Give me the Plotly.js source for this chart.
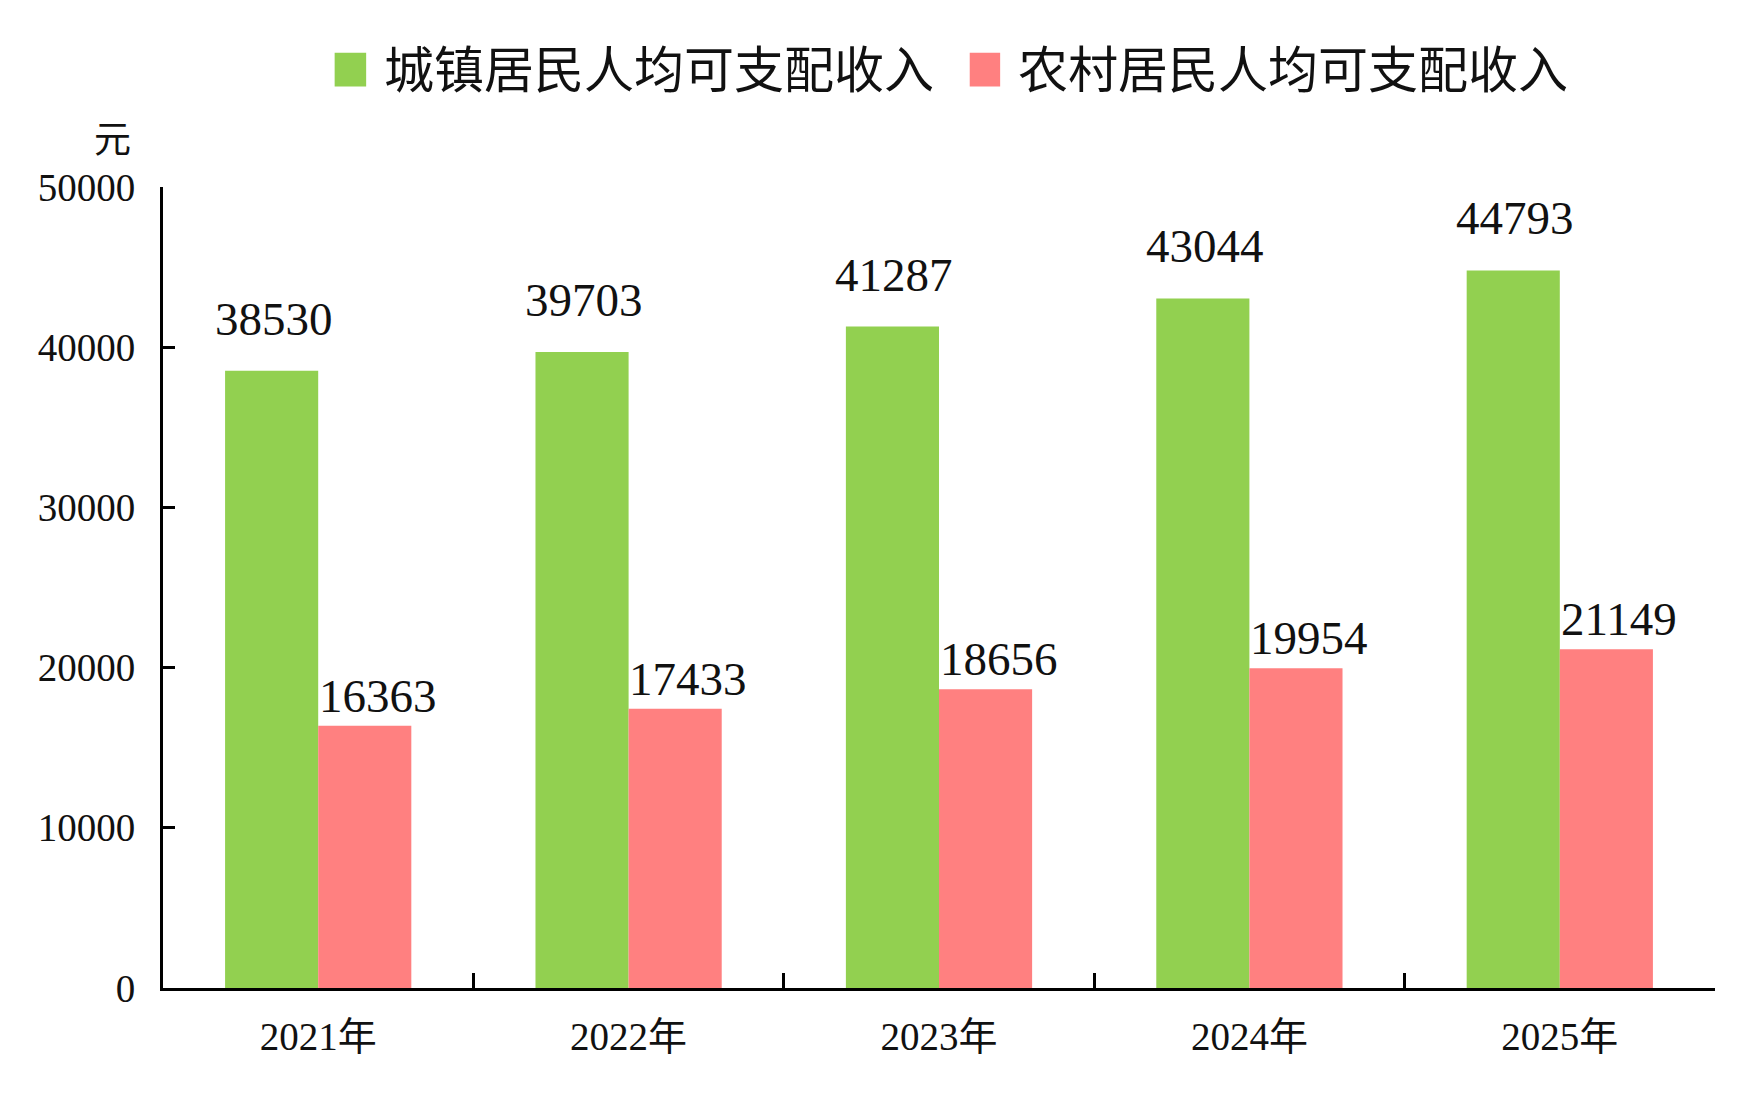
<!DOCTYPE html>
<html>
<head>
<meta charset="utf-8">
<script src="https://cdn.plot.ly/plotly-3.0.1.min.js"></script>
<style>
  html, body { margin: 0; padding: 0; background: #fff; }
  #chart { width: 1752px; height: 1119px; }
</style>
</head>
<body>
<div id="chart"></div>
<script>
// 城镇 / 农村居民人均可支配收入（元）
const years = ["2021年", "2022年", "2023年", "2024年", "2025年"];
const seriesNames = ["城镇居民人均可支配收入", "农村居民人均可支配收入"];
const urbanIncome = [38530, 39703, 41287, 43044, 44793];
const ruralIncome = [16363, 17433, 18656, 19954, 21149];

const green = "rgb(146, 208, 80)";
const pink = "rgb(255, 128, 128)";
const serif = "Liberation Serif, Noto Sans CJK SC, serif";
const cjk = "Noto Sans CJK SC, sans-serif";

const urbanTrace = {
  type: "bar",
  name: seriesNames[0],
  x: years,
  y: urbanIncome,
  marker: { color: green },
  showlegend: false,
  hoverinfo: "none",
};

const ruralTrace = {
  type: "bar",
  name: seriesNames[1],
  x: years,
  y: ruralIncome,
  marker: { color: pink },
  showlegend: false,
  hoverinfo: "none",
};

// value labels sit a bit off the bars, like in the original
let annotations = [];
for (var i = 0; i < years.length; i++) {
  annotations.push({
    x: i - 0.15, y: urbanIncome[i], xref: "x", yref: "y",
    text: String(urbanIncome[i]), showarrow: false,
    xanchor: "center", yanchor: "bottom", xshift: 2, yshift: 24,
    font: { family: serif, size: 47, color: "#111" },
  });
  annotations.push({
    x: i + 0.15, y: ruralIncome[i], xref: "x", yref: "y",
    text: String(ruralIncome[i]), showarrow: false,
    xanchor: "center", yanchor: "bottom", xshift: 13, yshift: 2,
    font: { family: serif, size: 47, color: "#111" },
  });
}

// unit label
annotations.push({
  x: -0.0327, y: 1.058, xref: "paper", yref: "paper",
  text: "元", showarrow: false, xanchor: "center", yanchor: "middle",
  font: { family: serif, size: 37, color: "#111" },
});

// legend drawn by hand so the swatches can be large
annotations.push({
  x: 0.1409, y: 1.151, xref: "paper", yref: "paper",
  text: seriesNames[0], showarrow: false, xanchor: "left", yanchor: "middle",
  font: { family: cjk, size: 50, color: "#111" },
});
annotations.push({
  x: 0.5494, y: 1.151, xref: "paper", yref: "paper",
  text: seriesNames[1], showarrow: false, xanchor: "left", yanchor: "middle",
  font: { family: cjk, size: 50, color: "#111" },
});

const shapes = [
  { type: "rect", xref: "paper", yref: "paper", x0: 0.1106, x1: 0.1309, y0: 1.1255, y1: 1.1675,
    fillcolor: green, line: { width: 0 } },
  { type: "rect", xref: "paper", yref: "paper", x0: 0.5198, x1: 0.5394, y0: 1.1255, y1: 1.1675,
    fillcolor: pink, line: { width: 0 } },
];

const layout = {
  width: 1752,
  height: 1119,
  margin: { l: 163, r: 37, t: 187, b: 131 },
  paper_bgcolor: "#fff",
  plot_bgcolor: "#fff",
  barmode: "group",
  bargap: 0.4,
  bargroupgap: 0,
  showlegend: false,
  font: { family: serif, color: "#111" },
  xaxis: {
    type: "category",
    showline: true, linecolor: "#000", linewidth: 3,
    ticks: "inside", tickson: "boundaries", ticklen: 15, tickwidth: 3, tickcolor: "#000",
    ticklabelstandoff: 12,
    tickfont: { family: serif, size: 39, color: "#111" },
    showgrid: false, zeroline: false,
  },
  yaxis: {
    range: [0, 50000],
    tickvals: [0, 10000, 20000, 30000, 40000, 50000],
    ticktext: ["0", "10000", "20000", "30000", "40000", "50000"],
    showline: true, linecolor: "#000", linewidth: 3,
    ticks: "inside", ticklen: 12, tickwidth: 3, tickcolor: "#000",
    ticklabelstandoff: 17,
    tickfont: { family: serif, size: 39, color: "#111" },
    showgrid: false, zeroline: false,
  },
  annotations: annotations,
  shapes: shapes,
};

Plotly.newPlot("chart", [urbanTrace, ruralTrace], layout, { staticPlot: true });
</script>
</body>
</html>
